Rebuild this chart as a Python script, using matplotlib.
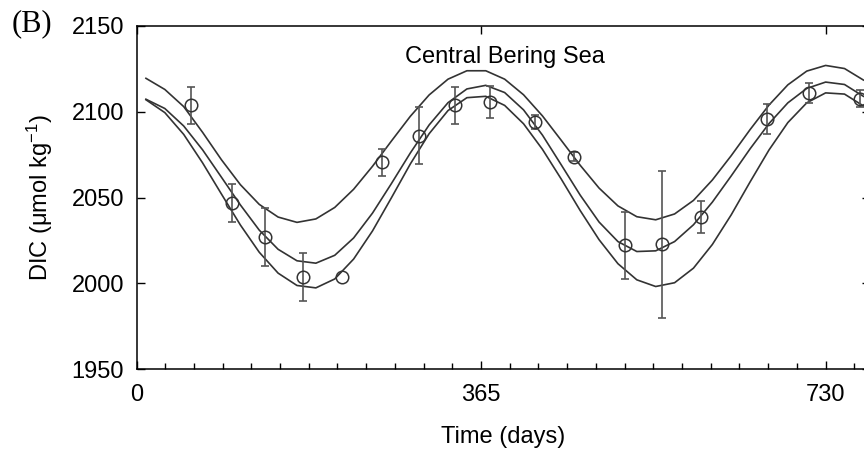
import matplotlib
matplotlib.use("Agg")
import matplotlib.pyplot as plt
from matplotlib.ticker import MultipleLocator, FixedLocator
import numpy as np

plt.rcParams['font.family'] = ['Liberation Sans', 'DejaVu Sans']
plt.rcParams['mathtext.fontset'] = 'custom'
plt.rcParams['mathtext.rm'] = 'Liberation Sans'
plt.rcParams['mathtext.it'] = 'Liberation Sans:italic'

# observations (day, DIC, error)
obs_day = [58, 101, 136, 176, 218, 260, 299, 337, 374, 422, 463, 518, 557, 598, 668, 712, 766]
obs_dic = [2103.7, 2047.0, 2026.9, 2003.6, 2003.5, 2070.5, 2086.1, 2103.7, 2105.6, 2093.9,
           2073.8, 2022.2, 2022.6, 2038.6, 2095.9, 2110.9, 2107.6]
obs_err = [10.7, 11.0, 16.7, 14.2, 0.0, 7.8, 16.4, 11.0, 9.3, 4.0,
           2.5, 19.5, 43.0, 9.5, 8.6, 5.7, 5.0]

# fitted curves
fit_day = [10, 30, 50, 70, 90, 110, 130, 150, 170, 190, 210, 230, 250, 270, 290, 310, 330, 350,
           370, 390, 410, 430, 450, 470, 490, 510, 530, 550, 570, 590, 610, 630, 650, 670, 690,
           710, 730, 750, 770]
fit_upper = [2119.5, 2113.0, 2103.0, 2088.0, 2072.0, 2057.5, 2046.0, 2038.6, 2035.5, 2037.5,
             2044.2, 2054.8, 2068.2, 2082.9, 2097.3, 2109.8, 2119.0, 2123.9, 2123.9, 2119.0,
             2109.9, 2097.6, 2083.3, 2068.8, 2055.5, 2045.1, 2038.8, 2037.0, 2040.4, 2048.3,
             2060.2, 2074.4, 2089.6, 2103.9, 2115.7, 2123.7, 2127.0, 2125.2, 2118.5]
fit_mid = [2107.3, 2101.9, 2091.7, 2077.8, 2061.8, 2045.7, 2031.0, 2019.8, 2013.1, 2011.7,
           2016.3, 2026.4, 2040.9, 2058.1, 2075.9, 2092.3, 2105.3, 2113.3, 2115.4, 2111.2,
           2101.1, 2086.4, 2069.0, 2051.4, 2035.7, 2024.3, 2018.5, 2018.9, 2024.3, 2034.1,
           2047.3, 2062.6, 2078.4, 2093.1, 2105.2, 2113.6, 2117.3, 2115.9, 2109.0]
fit_lower = [2107.0, 2099.5, 2086.8, 2070.2, 2052.0, 2034.0, 2018.1, 2005.9, 1998.7, 1997.3,
             2002.5, 2014.1, 2030.5, 2049.8, 2069.5, 2087.2, 2100.7, 2108.2, 2109.0, 2103.7,
             2093.0, 2078.1, 2060.7, 2042.4, 2025.4, 2011.4, 2002.0, 1998.1, 2000.3, 2008.8,
             2022.6, 2039.9, 2059.1, 2077.7, 2093.7, 2105.2, 2111.0, 2110.3, 2103.4]

fig = plt.figure(figsize=(8.64, 4.49), dpi=100)
ax = fig.add_axes([136.5 / 864, (449 - 369) / 449, (870 - 136.5) / 864, (369 - 26) / 449])

for curve in (fit_upper, fit_mid, fit_lower):
    ax.plot(fit_day, curve, color='#333333', lw=1.2, solid_joinstyle='round')

d = np.array(obs_day)
v = np.array(obs_dic)
e = np.array(obs_err)
has_err = e > 0
ax.errorbar(d[has_err], v[has_err], yerr=e[has_err], fmt='none', ecolor='#555555',
            elinewidth=1.2, capsize=3.2, capthick=1.2)
ax.plot(d, v, 'o', ms=9, mfc='none', mec='#333333', mew=1.1)

ax.set_xlim(0, (870 - 136.5) / 0.944)
ax.set_ylim(1950, 2150)

ax.xaxis.set_major_locator(FixedLocator([0, 365, 730]))
ax.xaxis.set_minor_locator(MultipleLocator(365 / 12))
ax.yaxis.set_major_locator(MultipleLocator(50))

ax.tick_params(axis='both', which='major', direction='in', length=6, width=1.0,
               labelsize=17, top=True, right=True)
ax.tick_params(axis='x', which='major', pad=11)
ax.tick_params(axis='y', which='major', pad=9)
ax.tick_params(axis='x', which='minor', direction='in', length=4, width=1.0,
               top=False, bottom=True)
for s in ax.spines.values():
    s.set_linewidth(1.1)

ax.set_xlabel('Time (days)', fontsize=17, labelpad=14)
ax.set_ylabel('DIC (\u03bcmol kg$^{-1}$)', fontsize=17, labelpad=12)

fig.text(505 / 864, 1 - 62.7 / 449, 'Central Bering Sea', fontsize=17,
         ha='center', va='baseline')
fig.text(32 / 864, 1 - 24 / 449, '(B)', fontsize=22, ha='center', va='center',
         family=['Liberation Serif', 'DejaVu Serif'])

fig.savefig('out.png', dpi=100)
